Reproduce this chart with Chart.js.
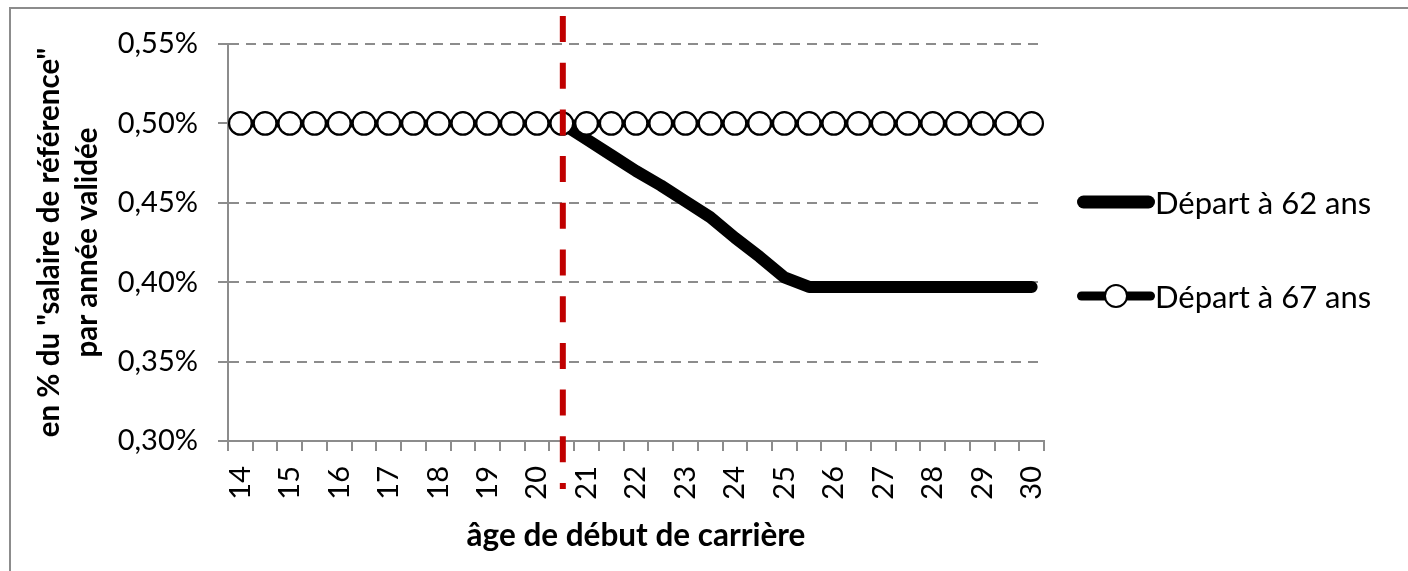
<!DOCTYPE html>
<html>
<head>
<meta charset="utf-8">
<script src="https://cdn.jsdelivr.net/npm/chart.js@4.4.1/dist/chart.umd.min.js"></script>
<style>
html,body{margin:0;padding:0;background:#fff;overflow:hidden;}
#wrap{position:relative;width:1408px;height:571px;overflow:hidden;font-family:Lato,"Open Sans",sans-serif;background:#fff;}
#frame{position:absolute;left:9px;top:7px;width:1500px;height:700px;border-left:2px solid #8c8c8c;border-top:2px solid #8c8c8c;box-sizing:border-box;}
#c{position:absolute;left:0;top:0;}
.item{position:absolute;left:1077px;height:40px;display:flex;align-items:center;font-size:31px;color:#000;white-space:nowrap;}
.sample{position:relative;width:78px;height:40px;flex:none;}
.sample .ln{position:absolute;left:0;right:0;top:50%;background:#000;transform:translateY(-50%);}
.sample .dot{position:absolute;left:50%;top:50%;width:20px;height:20px;border:2.5px solid #000;border-radius:50%;background:#fff;transform:translate(-50%,-50%);}
</style>
</head>
<body>
<div id="wrap">
  <div id="frame"></div>
  <canvas id="c" width="1408" height="571"></canvas>
  <div id="legend"></div>
</div>
<script>
// ---- data ----
const ages = [14,14.5,15,15.5,16,16.5,17,17.5,18,18.5,19,19.5,20,20.5,21,21.5,22,22.5,23,23.5,24,24.5,25,25.5,26,26.5,27,27.5,28,28.5,29,29.5,30];
const depart62 = [null,null,null,null,null,null,null,null,null,null,null,null,null,
  0.500,0.490,0.480,0.470,0.461,0.451,0.441,0.428,0.416,0.403,0.397,
  0.397,0.397,0.397,0.397,0.397,0.397,0.397,0.397,0.397];
const depart67 = [0.50,0.50,0.50,0.50,0.50,0.50,0.50,0.50,0.50,0.50,0.50,0.50,0.50,0.50,0.50,0.50,0.50,
  0.50,0.50,0.50,0.50,0.50,0.50,0.50,0.50,0.50,0.50,0.50,0.50,0.50,0.50,0.50,0.50];
const seriesNames = ["Départ à 62 ans","Départ à 67 ans"];
const yTicks = [0.30,0.35,0.40,0.45,0.50,0.55];
const markerAge = 20.5;
const xTitle = "âge de début de carrière";
const yTitle = ["en % du \"salaire de référence\"","par année validée"];

const FONT = "Lato";
const GRID = "#8c8c8c";

const markerPlugin = {
  id: 'marker',
  afterDraw(chart){
    const {ctx, scales:{x, y}} = chart;
    const px = x.getPixelForValue(ages.indexOf(markerAge)) + 1;
    const top = y.top - 28, bottom = y.bottom + 48;
    ctx.save();
    ctx.strokeStyle = '#c00000';
    ctx.lineWidth = 6;
    ctx.setLineDash([26, 20.7]);
    ctx.beginPath();
    ctx.moveTo(px, top);
    ctx.lineTo(px, bottom);
    ctx.stroke();
    ctx.restore();
  }
};

new Chart(document.getElementById('c'), {
  type: 'line',
  data: {
    labels: ages,
    datasets: [
      {
        label: seriesNames[0],
        data: depart62,
        borderColor: '#000',
        borderWidth: 12,
        borderCapStyle: 'round',
        borderJoinStyle: 'round',
        pointRadius: 0,
        tension: 0,
        spanGaps: false,
        order: 2
      },
      {
        label: seriesNames[1],
        data: depart67,
        borderColor: '#000',
        borderWidth: 8,
        pointRadius: 11.3,
        pointBorderWidth: 2.2,
        pointBackgroundColor: '#fff',
        pointBorderColor: '#000',
        tension: 0,
        order: 1
      }
    ]
  },
  options: {
    responsive: false,
    animation: false,
    events: [],
    layout: { padding: { left: 10, top: 44, right: 364, bottom: 0 } },
    plugins: { legend: { display: false }, tooltip: { enabled: false } },
    scales: {
      x: {
        offset: true,
        afterFit: s => { s.height = 130; },
        grid: { offset: true, drawOnChartArea: false, drawTicks: true, tickLength: 10, color: GRID, lineWidth: 2 },
        border: { color: GRID, width: 2 },
        ticks: {
          autoSkip: false, maxRotation: 90, minRotation: 90, padding: 15,
          color: '#000', font: { family: FONT, size: 29 },
          callback: (v, i) => Number.isInteger(ages[i]) ? String(ages[i]) : ''
        },
        title: {
          display: true, text: xTitle, color: '#000',
          font: { family: FONT, size: 31.5, weight: 'bold', lineHeight: 1.2 },
          padding: { top: 0, bottom: 16 }
        }
      },
      y: {
        min: 0.30, max: 0.55,
        afterFit: s => { s.width = 218; },
        afterBuildTicks: s => { s.ticks = yTicks.map(v => ({ value: v })); },
        grid: { color: GRID, lineWidth: 2, drawTicks: true, tickLength: 10, tickColor: GRID },
        border: { color: GRID, width: 2, dash: [10, 7] },
        ticks: {
          padding: 20, color: '#000', font: { family: FONT, size: 29 },
          callback: v => v.toFixed(2).replace('.', ',') + '%'
        },
        title: {
          display: true, text: yTitle, color: '#000',
          font: { family: FONT, size: 29.5, weight: 'bold', lineHeight: 1.3 },
          padding: { top: 20, bottom: 0 }
        }
      }
    }
  },
  plugins: [markerPlugin]
});

// legend (HTML text)
const legend = document.getElementById('legend');
const legendCenters = [202, 296];
seriesNames.forEach((name, i) => {
  const it = document.createElement('div');
  it.className = 'item';
  it.style.top = (legendCenters[i] - 20) + 'px';
  const s = document.createElement('div');
  s.className = 'sample';
  const ln = document.createElement('div');
  ln.className = 'ln';
  ln.style.height = (i === 0 ? 13 : 9) + 'px';
  ln.style.borderRadius = (i === 0 ? 7 : 5) + 'px';
  s.appendChild(ln);
  if (i === 1) { const d = document.createElement('div'); d.className = 'dot'; s.appendChild(d); }
  const t = document.createElement('span');
  t.textContent = name;
  it.appendChild(s); it.appendChild(t);
  legend.appendChild(it);
});
</script>
</body>
</html>
